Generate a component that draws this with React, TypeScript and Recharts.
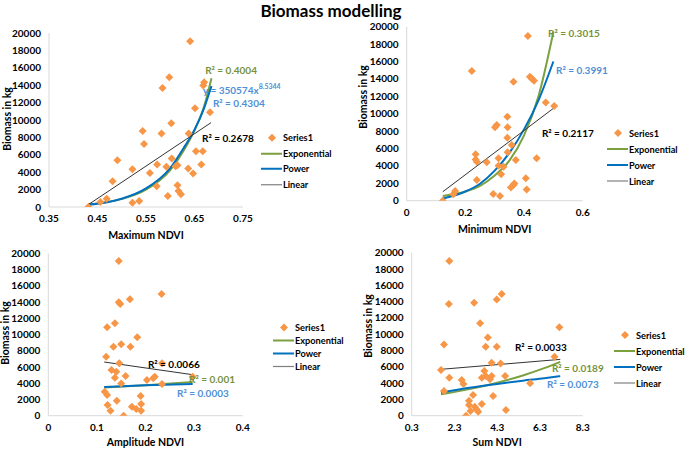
import React from 'react';
import {
  ComposedChart,
  Scatter,
  Line,
  XAxis,
  YAxis,
  Legend,
  ReferenceDot,
} from 'recharts';

type Pt = [number, number];

// biomass (kg) against each NDVI metric
const maxNdviPts: Pt[] = [
  [0.431, 0], [0.456, 580], [0.469, 960], [0.481, 2960], [0.491, 5380], [0.522, 4350],
  [0.522, 500], [0.536, 690], [0.543, 8730], [0.546, 7230], [0.558, 3920], [0.573, 4880],
  [0.572, 2380], [0.582, 8460], [0.584, 13690], [0.592, 4620], [0.595, 1270], [0.598, 14920],
  [0.602, 9620], [0.603, 5580], [0.611, 4690], [0.615, 4810], [0.615, 2500], [0.617, 1850],
  [0.622, 1460], [0.637, 4420], [0.638, 8460], [0.641, 19040], [0.647, 3850], [0.651, 11350],
  [0.653, 6420], [0.664, 4880], [0.667, 6420], [0.668, 13960], [0.67, 14350], [0.682, 10880],
];
const maxNdviExp: Pt[] = [
  [0.431, 310], [0.47, 560], [0.5, 930], [0.55, 2000], [0.6, 4250], [0.63, 6700],
  [0.65, 8800], [0.67, 11600], [0.685, 14800],
];
const maxNdviPow: Pt[] = [
  [0.431, 260], [0.47, 550], [0.5, 950], [0.55, 2130], [0.6, 4480], [0.63, 7000],
  [0.65, 8880], [0.67, 11400], [0.685, 13900],
];
const maxNdviLin: Pt[] = [[0.431, 270], [0.684, 9690]];

const minNdviPts: Pt[] = [
  [0.123, 0], [0.159, 730], [0.165, 1110], [0.222, 14900], [0.235, 5330], [0.235, 4750],
  [0.239, 4480], [0.239, 2380], [0.273, 4410], [0.295, 770], [0.301, 8430], [0.307, 8700],
  [0.313, 4870], [0.313, 4020], [0.318, 540], [0.322, 3030], [0.33, 3910], [0.343, 9660],
  [0.344, 8430], [0.343, 7240], [0.344, 5560], [0.355, 1530], [0.358, 6400], [0.364, 13680],
  [0.364, 1800], [0.367, 1990], [0.372, 4670], [0.406, 2570], [0.409, 1300], [0.413, 18930],
  [0.42, 14250], [0.426, 14060], [0.434, 13790], [0.443, 4870], [0.474, 11300], [0.503, 10880],
];
const minNdviExp: Pt[] = [
  [0.123, 540], [0.2, 1050], [0.25, 1700], [0.3, 2900], [0.35, 4600], [0.4, 7500],
  [0.45, 12100], [0.5, 19400],
];
const minNdviPow: Pt[] = [
  [0.123, 250], [0.2, 1060], [0.25, 1950], [0.3, 3450], [0.35, 5500], [0.4, 8200],
  [0.45, 11600], [0.5, 16000],
];
const minNdviLin: Pt[] = [[0.123, 1030], [0.5, 10610]];

const ampNdviPts: Pt[] = [
  [0.145, 19060], [0.233, 14990], [0.168, 14330], [0.145, 13960], [0.148, 13760], [0.137, 11380],
  [0.121, 10880], [0.183, 9650], [0.15, 8790], [0.134, 8500], [0.169, 8500], [0.119, 7270],
  [0.146, 6450], [0.234, 6450], [0.13, 5630], [0.14, 5420], [0.137, 4680], [0.159, 4890],
  [0.219, 4800], [0.216, 4600], [0.203, 4390], [0.15, 3980], [0.234, 3900], [0.297, 4800],
  [0.116, 2960], [0.121, 2550], [0.19, 2420], [0.141, 1850], [0.122, 1310], [0.191, 1440],
  [0.172, 1110], [0.181, 820], [0.128, 620], [0.191, 620], [0.155, 0],
];
const ampNdviExp: Pt[] = [[0.115, 3480], [0.2, 3750], [0.297, 4150]];
const ampNdviPow: Pt[] = [[0.115, 3530], [0.2, 3740], [0.297, 3900]];
const ampNdviLin: Pt[] = [[0.115, 6610], [0.297, 5050]];

const sumNdviPts: Pt[] = [
  [2.06, 18980], [2.04, 13700], [3.22, 13870], [4.51, 14930], [4.28, 14270], [3.5, 11330],
  [7.21, 10840], [3.86, 9610], [1.81, 8750], [3.76, 8470], [4.28, 8470], [6.98, 7240],
  [1.67, 5600], [4.04, 6500], [4.46, 6420], [3.7, 5480], [2.06, 4660], [3.58, 4660],
  [3.76, 4870], [4.04, 4870], [3.96, 4460], [4.67, 4870], [2.64, 4380], [2.72, 3890],
  [5.84, 3970], [1.81, 3030], [3.17, 2540], [4.11, 2410], [2.98, 1840], [3.58, 1430],
  [2.98, 1310], [3.25, 1100], [3.33, 780], [3.05, 570], [3.41, 490], [4.71, 700], [2.84, 0],
];
const sumNdviExp: Pt[] = [
  [1.67, 2620], [3, 3260], [4.3, 4050], [5.5, 4940], [6.5, 5830], [7.25, 6600],
];
const sumNdviPow: Pt[] = [
  [1.67, 2850], [3, 3420], [4.3, 3900], [5.5, 4300], [6.5, 4590], [7.25, 4850],
];
const sumNdviLin: Pt[] = [[1.67, 5690], [7.25, 6910]];

const yTicks = [0, 2000, 4000, 6000, 8000, 10000, 12000, 14000, 16000, 18000, 20000];
const legendNames = ['Series1', 'Exponential', 'Power', 'Linear'];

const ORANGE = '#F79646';
const GREEN = '#7BA13F';
const GREEN_TXT = '#76923C';
const BLUE = '#0070C0';
const BLUE_TXT = '#4F8FD6';
const DARK = '#333333';
const AXIS = '#D9D9D9';

type Note = { x: number; y: number; text: string; color: string; sup?: string };

type PanelCfg = {
  box: { left: number; top: number; width: number; height: number };
  plot: { left: number; right: number; top: number; bottom: number };
  xDomain: [number, number];
  xTicks: number[];
  xLabel: string;
  xLabelBase: number;
  yLabelAt: [number, number];
  pts: Pt[];
  exp: Pt[];
  pow: Pt[];
  lin: Pt[];
  notes: Note[];
  legend: { left: number; top: number; row: number; width: number };
};

const toXY = (pts: Pt[]) => pts.map(([x, y]) => ({ x, y }));

const panels: PanelCfg[] = [
  {
    box: { left: 0, top: 20, width: 340, height: 230 },
    plot: { left: 49, right: 243, top: 33, bottom: 207 },
    xDomain: [0.35, 0.75],
    xTicks: [0.35, 0.45, 0.55, 0.65, 0.75],
    xLabel: 'Maximum NDVI',
    xLabelBase: 239,
    yLabelAt: [7, 99],
    pts: maxNdviPts,
    exp: maxNdviExp,
    pow: maxNdviPow,
    lin: maxNdviLin,
    notes: [
      { x: 0.672, y: 15750, text: 'R² = 0.4004', color: GREEN_TXT },
      { x: 0.6675, y: 13450, text: 'y = 350574x', sup: '8.5344', color: BLUE_TXT },
      { x: 0.688, y: 11950, text: 'R² = 0.4304', color: BLUE_TXT },
      { x: 0.6655, y: 7930, text: 'R² = 0.2678', color: '#000' },
    ],
    legend: { left: 261, top: 110, row: 15.5, width: 79 },
  },
  {
    box: { left: 340, top: 20, width: 345, height: 230 },
    plot: { left: 406.7, right: 582.7, top: 26.7, bottom: 200.7 },
    xDomain: [0, 0.6],
    xTicks: [0, 0.2, 0.4, 0.6],
    xLabel: 'Minimum NDVI',
    xLabelBase: 233,
    yLabelAt: [22.7, 77],
    pts: minNdviPts,
    exp: minNdviExp,
    pow: minNdviPow,
    lin: minNdviLin,
    notes: [
      { x: 0.4817, y: 19280, text: 'R² = 0.3015', color: GREEN_TXT },
      { x: 0.509, y: 15020, text: 'R² = 0.3991', color: BLUE_TXT },
      { x: 0.461, y: 7780, text: 'R² = 0.2117', color: '#000' },
    ],
    legend: { left: 267, top: 105, row: 16, width: 78 },
  },
  {
    box: { left: 0, top: 245, width: 340, height: 204 },
    plot: { left: 48.3, right: 242.7, top: 253.3, bottom: 415.7 },
    xDomain: [0, 0.4],
    xTicks: [0, 0.1, 0.2, 0.3, 0.4],
    xLabel: 'Amplitude NDVI',
    xLabelBase: 445.5,
    yLabelAt: [5, 88],
    pts: ampNdviPts,
    exp: ampNdviExp,
    pow: ampNdviPow,
    lin: ampNdviLin,
    notes: [
      { x: 0.205, y: 6370, text: 'R² = 0.0066', color: '#000' },
      { x: 0.2895, y: 4520, text: 'R² = 0.001', color: GREEN_TXT },
      { x: 0.2648, y: 2800, text: 'R² = 0.0003', color: BLUE_TXT },
    ],
    legend: { left: 273, top: 75.5, row: 13, width: 72 },
  },
  {
    box: { left: 340, top: 245, width: 345, height: 204 },
    plot: { left: 411.7, right: 582.7, top: 252.7, bottom: 415.7 },
    xDomain: [0.3, 8.3],
    xTicks: [0.3, 2.3, 4.3, 6.3, 8.3],
    xLabel: 'Sum NDVI',
    xLabelBase: 445.5,
    yLabelAt: [28, 81],
    pts: sumNdviPts,
    exp: sumNdviExp,
    pow: sumNdviPow,
    lin: sumNdviLin,
    notes: [
      { x: 5.13, y: 8430, text: 'R² = 0.0033', color: '#000' },
      { x: 6.86, y: 5850, text: 'R² = 0.0189', color: GREEN_TXT },
      { x: 6.63, y: 3890, text: 'R² = 0.0073', color: BLUE_TXT },
    ],
    legend: { left: 274, top: 82, row: 16, width: 70 },
  },
];

const tickStyle = { fontSize: 10, fontWeight: 700, fill: '#000' };

const DiamondMark = (props: any) => {
  const { cx, cy } = props;
  if (cx == null || cy == null) return null;
  const s = 4;
  return (
    <polygon
      points={`${cx},${cy - s} ${cx + s},${cy} ${cx},${cy + s} ${cx - s},${cy}`}
      fill={ORANGE}
    />
  );
};

function LegendBox({ row, width }: { row: number; width: number }) {
  return (
    <div style={{ width, whiteSpace: 'nowrap' }}>
      {legendNames.map((name, i) => (
        <div
          key={name}
          style={{ display: 'flex', alignItems: 'center', height: row, fontSize: 9.2, fontWeight: 700 }}
        >
          <svg width={22} height={row} style={{ flexShrink: 0 }}>
            {i === 0 ? (
              <DiamondMark cx={11} cy={row / 2} />
            ) : (
              <line
                x1={0}
                x2={21}
                y1={row / 2}
                y2={row / 2}
                stroke={i === 1 ? GREEN : i === 2 ? BLUE : '#7F7F7F'}
                strokeWidth={i === 3 ? 1.2 : 2}
              />
            )}
          </svg>
          <span>{name}</span>
        </div>
      ))}
    </div>
  );
}

function Panel({ cfg }: { cfg: PanelCfg }) {
  const { box, plot } = cfg;
  const xAxisHeight = cfg.xLabelBase - plot.bottom;
  const margin = {
    top: plot.top - box.top,
    right: box.left + box.width - plot.right,
    left: 0,
    bottom: box.top + box.height - cfg.xLabelBase,
  };
  const [lx, ly] = cfg.yLabelAt;
  return (
    <div style={{ position: 'absolute', left: box.left, top: box.top }}>
      <ComposedChart width={box.width} height={box.height} margin={margin}>
        <XAxis
          type='number'
          dataKey='x'
          domain={cfg.xDomain}
          ticks={cfg.xTicks}
          interval={0}
          allowDataOverflow
          height={xAxisHeight}
          axisLine={{ stroke: AXIS }}
          tickLine={false}
          tick={tickStyle}
          label={{
            value: cfg.xLabel,
            position: 'insideBottom',
            offset: 0,
            fontSize: 10.5,
            fontWeight: 700,
            fill: '#000',
          }}
        />
        <YAxis
          type='number'
          dataKey='y'
          domain={[0, 20000]}
          ticks={yTicks}
          interval={0}
          allowDataOverflow
          width={plot.left - box.left}
          axisLine={{ stroke: AXIS }}
          tickLine={false}
          tick={tickStyle}
          label={{
            content: () => (
              <text
                x={lx}
                y={ly}
                transform={`rotate(-90 ${lx} ${ly})`}
                textAnchor='middle'
                dominantBaseline='central'
                fontSize={10.5}
                fontWeight={700}
                fill='#000'
              >
                Biomass in kg
              </text>
            ),
          }}
        />
        <Scatter
          name='Series1'
          data={toXY(cfg.pts)}
          shape={DiamondMark}
          isAnimationActive={false}
        />
        <Line
          name='Exponential'
          data={toXY(cfg.exp)}
          dataKey='y'
          type='monotone'
          stroke={GREEN}
          strokeWidth={2}
          dot={false}
          isAnimationActive={false}
        />
        <Line
          name='Power'
          data={toXY(cfg.pow)}
          dataKey='y'
          type='monotone'
          stroke={BLUE}
          strokeWidth={2}
          dot={false}
          isAnimationActive={false}
        />
        <Line
          name='Linear'
          data={toXY(cfg.lin)}
          dataKey='y'
          type='linear'
          stroke={DARK}
          strokeWidth={1}
          dot={false}
          isAnimationActive={false}
        />
        {cfg.notes.map((n) => (
          <ReferenceDot
            key={n.text + n.x}
            x={n.x}
            y={n.y}
            r={0}
            ifOverflow='visible'
            shape={(p: any) => (
              <text
                x={p.cx}
                y={p.cy}
                dominantBaseline='central'
                fontSize={10}
                fontWeight={700}
                fill={n.color}
              >
                {n.text}
                {n.sup && (
                  <tspan dy={-4} fontSize={7}>
                    {n.sup}
                  </tspan>
                )}
              </text>
            )}
          />
        ))}
        <Legend
          layout='vertical'
          align='center'
          verticalAlign='middle'
          wrapperStyle={{ left: cfg.legend.left, top: cfg.legend.top, width: cfg.legend.width }}
          content={() => <LegendBox row={cfg.legend.row} width={cfg.legend.width} />}
        />
      </ComposedChart>
    </div>
  );
}

export default function App() {
  return (
    <div
      style={{
        position: 'absolute',
        left: 0,
        top: 0,
        width: 685,
        height: 449,
        background: '#fff',
        fontFamily: 'Lato, "Open Sans", sans-serif',
        overflow: 'hidden',
      }}
    >
      <div
        style={{
          position: 'absolute',
          left: 0,
          top: 0,
          width: 662,
          textAlign: 'center',
          fontSize: 17,
          fontWeight: 700,
          lineHeight: '21px',
        }}
      >
        Biomass modelling
      </div>
      {panels.map((p) => (
        <Panel key={p.xLabel} cfg={p} />
      ))}
    </div>
  );
}
